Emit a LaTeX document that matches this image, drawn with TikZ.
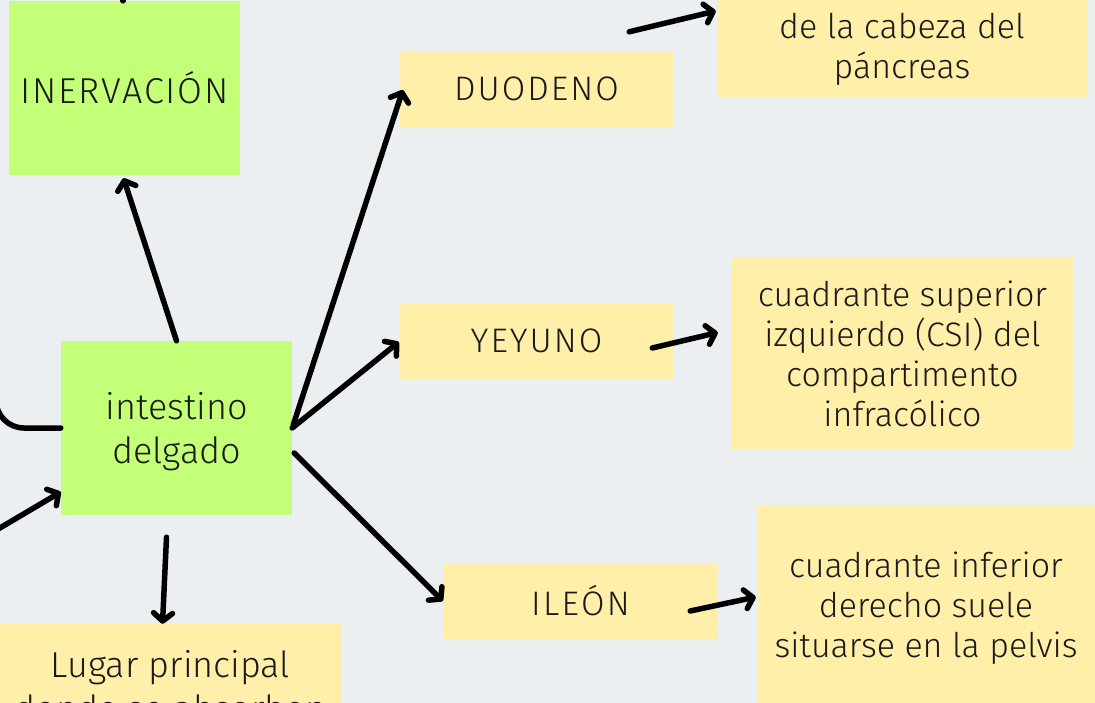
\documentclass[tikz,border=0pt]{standalone}
\usepackage{fontspec}
\setmainfont{Fira Sans Light}
\usetikzlibrary{arrows.meta,calc}
\definecolor{bg}{HTML}{ECEFF2}
\definecolor{grn}{HTML}{C4FF78}
\definecolor{ylw}{HTML}{FFEFA8}
\definecolor{ink}{HTML}{1A1A1A}
\newcommand{\lift}[1]{\rule{0pt}{#1}}
\tikzset{
  box/.style={inner sep=0pt, align=center, text=ink, font=\fontsize{34}{40}\selectfont},
  bigtext/.style={font=\fontsize{36}{44}\selectfont},
  gbox/.style={box, fill=grn, bigtext},
  ybox/.style={box, fill=ylw},
  conn/.style={line width=5.5pt, line cap=round, line join=round,
    -{Straight Barb[length=8pt,width=19pt,line cap=round,line join=round]}},
  plain/.style={line width=5.5pt, line cap=round, line join=round}
}
\begin{document}
\begin{tikzpicture}[x=1pt,y=-1pt]
\useasboundingbox[fill=bg] (0,0) rectangle (1095,703);
\clip (0,0) rectangle (1095,703);
% nodes
\node[gbox, minimum width=231pt, minimum height=174pt] (INV) at (124.5,88) {\addfontfeature{LetterSpace=5}INERVACIÓN};
\node[gbox, minimum width=231pt, minimum height=174pt] (ID) at (176.5,428) {\lift{34pt}intestino\\delgado};
\node[ybox, bigtext, minimum width=341pt, minimum height=124pt] (LUG) at (170.5,686) {Lugar principal\\donde se absorben};
\node[ybox, minimum width=273pt, minimum height=76pt] (DUO) at (536.5,89) {\addfontfeature{LetterSpace=6}DUODENO};
\node[ybox, minimum width=273pt, minimum height=76pt] (YEY) at (536.5,341) {\addfontfeature{LetterSpace=6}YEYUNO};
\node[ybox, minimum width=273pt, minimum height=76pt] (ILE) at (580.5,601) {\addfontfeature{LetterSpace=7}ILEÓN};
\node[ybox, minimum width=370pt, minimum height=100pt] (PAN) at (902,47) {\lift{29.5pt}de la cabeza del\\páncreas};
\node[ybox, minimum width=341pt, minimum height=193pt] (CSI) at (902.5,353.5) {cuadrante superior\\izquierdo (CSI) del\\compartimento\\infracólico};
\node[ybox, minimum width=338pt, minimum height=198pt] (ILR) at (926,604) {\lift{33.5pt}cuadrante inferior\\derecho suele\\situarse en la pelvis};
% free ends
\coordinate (topout) at (123,-20);
\coordinate (leftin) at (-12,535);
% connectors
\draw[plain] ($(INV.north)+(-1.5,0)$) -- (topout);
\draw[plain, rounded corners=28pt] (ID.west) -- (-4,428) -- (-4,330);
\draw[conn] (leftin) -- ($(ID.west)+(0,64)$);
\draw[conn] (ID.north) -- ($(INV.south)+(-1,3)$);
\draw[conn] ($(ID.south)+(-10,22)$) -- ($(LUG.north)+(-8,0)$);
\draw[conn] ($(ID.east)+(1,-3)$) -- ($(DUO.west)+(3,1)$);
\draw[conn] (ID.east) -- ($(YEY.west)+(-1,1)$);
\draw[conn] ($(ID.east)+(2,25)$) -- ($(ILE.west)+(-1,0)$);
\draw[conn] ($(DUO.north east)+(-44,-19)$) -- ($(PAN.west)+(-1,-36)$);
\draw[conn] ($(YEY.east)+(-21,7)$) -- ($(CSI.west)+(-14,-21)$);
\draw[conn] ($(ILE.east)+(-27,10)$) -- ($(ILR.west)+(-1,-7)$);
\end{tikzpicture}
\end{document}
